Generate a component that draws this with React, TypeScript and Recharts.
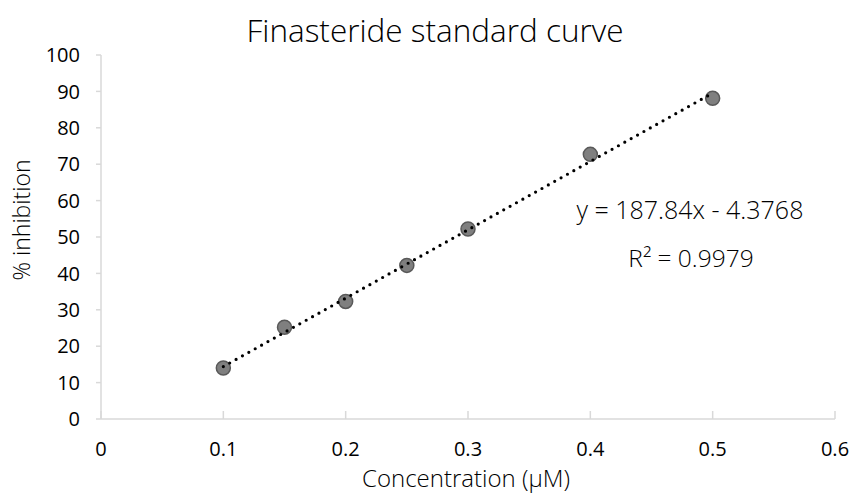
import { ScatterChart, Scatter, XAxis, YAxis } from "recharts";

const concentrations = [0.1, 0.15, 0.2, 0.25, 0.3, 0.4, 0.5];
const inhibition = [14.0, 25.2, 32.3, 42.2, 52.2, 72.7, 88.1];
// linear trendline ends, as drawn by Excel (y = 187.84x - 4.3768)
const trendX = [0.1, 0.5];
const trendY = [14.41, 89.54];
const xTicks = [0, 0.1, 0.2, 0.3, 0.4, 0.5, 0.6];
const yTicks = [0, 10, 20, 30, 40, 50, 60, 70, 80, 90, 100];

const points = concentrations.map((x, i) => ({ x, y: inhibition[i] }));
const trend = trendX.map((x, i) => ({ x, y: trendY[i] }));

const FONT = "'Open Sans', 'Noto Sans', sans-serif";
const AXIS = "#d9d9d9";

function XTick(props: any) {
  const { x, y, payload } = props;
  return (
    <g>
      <line x1={x} x2={x} y1={y} y2={y - 8} stroke={AXIS} strokeWidth={1.5} />
      <text x={x} y={y + 37} textAnchor="middle" fontSize={20} fill="#000" fontFamily={FONT}>
        {payload.value}
      </text>
    </g>
  );
}

export default function App() {
  return (
    <div style={{ position: "absolute", left: 0, top: 0, background: "#fff" }}>
      <ScatterChart
        width={850}
        height={493}
        margin={{ top: 55, right: 15, left: 0, bottom: 0 }}
        style={{ fontFamily: FONT }}
      >
        <XAxis
          type="number"
          dataKey="x"
          domain={[0, 0.6]}
          ticks={xTicks}
          height={74}
          stroke={AXIS}
          strokeWidth={1.5}
          tickSize={0}
          tickMargin={0}
          tick={<XTick />}
          interval={0}
        />
        <YAxis
          type="number"
          dataKey="y"
          domain={[0, 100]}
          ticks={yTicks}
          width={101}
          stroke={AXIS}
          strokeWidth={1.5}
          tickSize={5}
          tickMargin={16}
          tick={{ fill: "#000", fontSize: 20, fontFamily: FONT }}
          interval={0}
        />
        <Scatter
          data={points}
          fill="#7f7f7f"
          stroke="#595959"
          strokeWidth={1.5}
          shape={(p: any) => (
            <circle cx={p.cx} cy={p.cy} r={7} fill="#7f7f7f" stroke="#595959" strokeWidth={1.5} />
          )}
          isAnimationActive={false}
        />
        <Scatter
          data={trend}
          line={{ stroke: "#000", strokeWidth: 3.2, strokeDasharray: "0 7.3", strokeLinecap: "round" }}
          shape={() => <g />}
          isAnimationActive={false}
        />
        <text x={435} y={42} textAnchor="middle" fontSize={31.5} fontWeight={300} fill="#000" fontFamily={FONT}>
          Finasteride standard curve
        </text>
        <text x={690} y={219} textAnchor="middle" fontSize={25} fontWeight={300} fill="#000" fontFamily={FONT}>
          y = 187.84x - 4.3768
        </text>
        <text x={691} y={267} textAnchor="middle" fontSize={24.5} fontWeight={300} fill="#000" fontFamily={FONT}>
          R² = 0.9979
        </text>
        <text x={466} y={487} textAnchor="middle" fontSize={24} fontWeight={300} fill="#000" fontFamily={FONT}>
          Concentration (μM)
        </text>
        <text
          x={30}
          y={220}
          textAnchor="middle"
          fontSize={23}
          fontWeight={300}
          fill="#000"
          fontFamily={FONT}
          transform="rotate(-90 30 220)"
        >
          % inhibition
        </text>
      </ScatterChart>
    </div>
  );
}
